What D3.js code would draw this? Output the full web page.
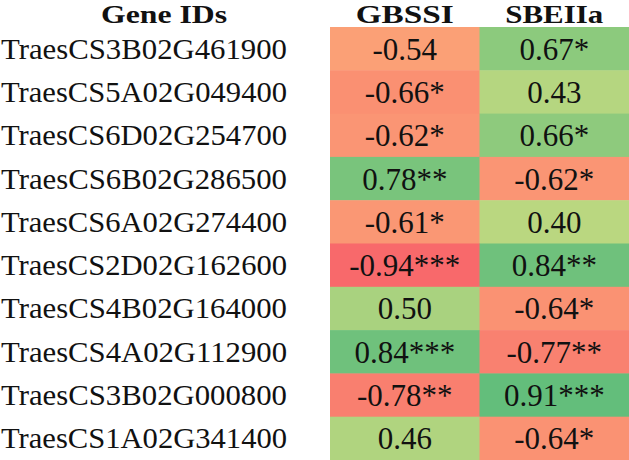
<!DOCTYPE html>
<html>
<head>
<meta charset="utf-8">
<script src="https://cdn.jsdelivr.net/npm/d3@7"></script>
<style>
  body { margin: 0; background: #fff; }
  svg { display: block; }
  text { font-family: "Liberation Serif", "Times New Roman", serif; fill: #111; }
</style>
</head>
<body>
<svg id="chart" width="629" height="460"></svg>
<script>
// data
var genes = ["TraesCS3B02G461900", "TraesCS5A02G049400", "TraesCS6D02G254700", "TraesCS6B02G286500",
  "TraesCS6A02G274400", "TraesCS2D02G162600", "TraesCS4B02G164000", "TraesCS4A02G112900",
  "TraesCS3B02G000800", "TraesCS1A02G341400"]
var columns = ["GBSSI", "SBEIIa"]
var gbssi = [-0.54, -0.66, -0.62, 0.78, -0.61, -0.94, 0.50, 0.84, -0.78, 0.46]
var gbssiSig = ["", "*", "*", "**", "*", "***", "", "***", "**", ""]
var sbeiia = [0.67, 0.43, 0.66, -0.62, 0.40, 0.84, -0.64, -0.77, 0.91, -0.64]
var sbeiiaSig = ["*", "", "*", "*", "", "**", "*", "**", "***", "*"]

var svg = d3.select("#chart")
var width = 629, height = 460

var y = d3.scaleBand().domain(genes).range([27, 460])
var x = d3.scaleBand().domain(columns).range([330, 629])

var all = gbssi.concat(sbeiia)
var color = d3.scaleLinear()
  .domain([d3.min(all), 0, d3.max(all)])
  .range(["#F8696B", "#FFEB84", "#63BE7B"])

var cells = []
for (let i = 0; i < genes.length; i++) {
  cells.push({ gene: genes[i], col: "GBSSI", v: gbssi[i], sig: gbssiSig[i] })
  cells.push({ gene: genes[i], col: "SBEIIa", v: sbeiia[i], sig: sbeiiaSig[i] })
}

// plain hyphen like the original table, not the unicode minus
var fmt = function (v) { return d3.format(".2f")(v).replace("\u2212", "-") }

// colored cells
svg.append("g")
  .selectAll("rect")
  .data(cells)
  .enter()
  .append("rect")
  .attr("x", function (d) { return x(d.col) })
  .attr("y", function (d) { return y(d.gene) })
  .attr("width", x.bandwidth() + 0.5)
  .attr("height", y.bandwidth() + 0.5)
  .style("fill", function (d) { return color(d.v) })

// values in the cells
svg.append("g")
  .selectAll("text")
  .data(cells)
  .enter()
  .append("text")
  .attr("x", function (d) { return x(d.col) + x.bandwidth() / 2 })
  .attr("y", function (d) { return y(d.gene) + y.bandwidth() / 2 + 11 })
  .attr("text-anchor", "middle")
  .style("font-size", "31px")
  .text(function (d) { return fmt(d.v) + d.sig })

// gene ids
svg.append("g")
  .selectAll("text")
  .data(genes)
  .enter()
  .append("text")
  .attr("x", 1)
  .attr("y", function (d) { return y(d) + y.bandwidth() / 2 + 10 })
  .attr("textLength", 286)
  .attr("lengthAdjust", "spacingAndGlyphs")
  .style("font-size", "30px")
  .text(function (d) { return d })

// header (the original header is stretched wider than its height)
svg.append("text")
  .attr("x", 164)
  .attr("y", 23)
  .attr("text-anchor", "middle")
  .attr("textLength", 126)
  .attr("lengthAdjust", "spacingAndGlyphs")
  .style("font-size", "25px")
  .style("font-weight", "bold")
  .text("Gene IDs")

svg.append("g")
  .selectAll("text")
  .data(columns)
  .enter()
  .append("text")
  .attr("x", function (d) { return x(d) + x.bandwidth() / 2 })
  .attr("y", 23)
  .attr("text-anchor", "middle")
  .attr("textLength", 98)
  .attr("lengthAdjust", "spacingAndGlyphs")
  .style("font-size", "25px")
  .style("font-weight", "bold")
  .text(function (d) { return d })
</script>
</body>
</html>
